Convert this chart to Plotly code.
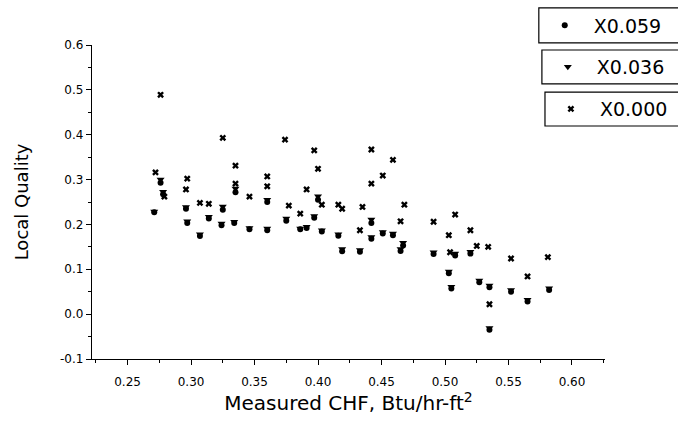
import plotly.graph_objects as go

# ---- data ----
chf_filled = [0.271, 0.276, 0.278, 0.296, 0.297, 0.307, 0.314, 0.324, 0.325, 0.334,
              0.335, 0.346, 0.360, 0.360, 0.375, 0.386, 0.391, 0.397, 0.400, 0.403,
              0.416, 0.419, 0.433, 0.442, 0.442, 0.451, 0.459, 0.465, 0.467, 0.491,
              0.503, 0.505, 0.508, 0.520, 0.527, 0.535, 0.535, 0.552, 0.565, 0.582]
q_059 = [0.227, 0.293, 0.267, 0.235, 0.203, 0.174, 0.213, 0.198, 0.233, 0.203,
         0.272, 0.189, 0.250, 0.187, 0.208, 0.189, 0.192, 0.215, 0.255, 0.184,
         0.175, 0.140, 0.139, 0.203, 0.168, 0.180, 0.176, 0.141, 0.153, 0.134,
         0.091, 0.057, 0.131, 0.135, 0.071, 0.060, -0.035, 0.050, 0.028, 0.054]
q_036 = [0.229, 0.300, 0.273, 0.239, 0.207, 0.178, 0.217, 0.202, 0.240, 0.206,
         0.280, 0.192, 0.255, 0.191, 0.213, 0.191, 0.195, 0.219, 0.263, 0.187,
         0.178, 0.145, 0.143, 0.211, 0.172, 0.183, 0.180, 0.145, 0.159, 0.138,
         0.095, 0.061, 0.135, 0.139, 0.075, 0.064, -0.031, 0.054, 0.032, 0.058]

chf_x = [0.272, 0.276, 0.279, 0.296, 0.297, 0.307, 0.314, 0.325, 0.335, 0.335,
         0.346, 0.360, 0.360, 0.374, 0.377, 0.386, 0.391, 0.397, 0.400, 0.403,
         0.416, 0.419, 0.433, 0.435, 0.442, 0.442, 0.451, 0.459, 0.465, 0.468,
         0.491, 0.503, 0.504, 0.508, 0.520, 0.525, 0.534, 0.535, 0.552, 0.565, 0.581]
q_000 = [0.316, 0.489, 0.262, 0.278, 0.302, 0.248, 0.246, 0.393, 0.291, 0.331,
         0.262, 0.307, 0.285, 0.389, 0.242, 0.224, 0.278, 0.365, 0.324, 0.244,
         0.244, 0.235, 0.187, 0.239, 0.367, 0.291, 0.309, 0.344, 0.207, 0.244,
         0.206, 0.176, 0.138, 0.222, 0.187, 0.152, 0.150, 0.022, 0.124, 0.084, 0.127]

series_names = ["X0.059", "X0.036", "X0.000"]
x_tickvals = [0.25, 0.30, 0.35, 0.40, 0.45, 0.50, 0.55, 0.60]
x_ticktext = ["0.25", "0.30", "0.35", "0.40", "0.45", "0.50", "0.55", "0.60"]
y_tickvals = [-0.1, 0.0, 0.1, 0.2, 0.3, 0.4, 0.5, 0.6]
y_ticktext = ["-0.1", "0.0", "0.1", "0.2", "0.3", "0.4", "0.5", "0.6"]

fig = go.Figure()
fig.add_trace(go.Scatter(x=chf_filled, y=q_059, mode="markers", name=series_names[0],
                         marker=dict(symbol="circle", size=6, color="black"),
                         legend="legend"))
fig.add_trace(go.Scatter(x=chf_filled, y=q_036, mode="markers", name=series_names[1],
                         marker=dict(symbol="triangle-down", size=7, color="black"),
                         legend="legend2"))
fig.add_trace(go.Scatter(x=chf_x, y=q_000, mode="markers", name=series_names[2],
                         marker=dict(symbol="x", size=6, color="black"),
                         legend="legend3"))

tick_font = dict(family="DejaVu Sans, sans-serif", size=12, color="black")
ytitle_font = dict(family="DejaVu Sans, sans-serif", size=18, color="black")
xtitle_font = dict(family="DejaVu Sans, sans-serif", size=20, color="black")
leg_font = dict(family="DejaVu Sans, sans-serif", size=19, color="black")

# legend boxes (paper coords: left, bottom, top)
boxes = [(0.871, 1.007, 1.118), (0.877, 0.876, 0.984), (0.883, 0.742, 0.850)]

def leg(x, yc):
    return dict(x=x - 0.006, y=yc, xanchor="left", yanchor="middle", xref="paper", yref="paper",
                borderwidth=0, bgcolor="rgba(0,0,0,0)", font=leg_font, itemwidth=48)

for (x0, y0, y1) in boxes:
    fig.add_shape(type="rect", xref="paper", yref="paper", x0=x0, x1=1.17, y0=y0, y1=y1,
                  line=dict(color="black", width=1.2), fillcolor="white", layer="above")

fig.update_layout(
    width=678, height=421,
    margin=dict(l=92, r=73, t=45, b=62, autoexpand=False),
    plot_bgcolor="white", paper_bgcolor="white",
    showlegend=True,
    legend=leg(boxes[0][0], (boxes[0][1] + boxes[0][2]) / 2),
    legend2=leg(boxes[1][0], (boxes[1][1] + boxes[1][2]) / 2),
    legend3=leg(boxes[2][0], (boxes[2][1] + boxes[2][2]) / 2),
    xaxis=dict(range=[0.222, 0.626], showgrid=False, zeroline=False,
               showline=True, linecolor="black", linewidth=1.3,
               ticks="outside", ticklen=5, tickwidth=1.2, tickcolor="black",
               tickvals=x_tickvals, ticktext=x_ticktext, tickfont=tick_font,
               ticklabelstandoff=6,
               minor=dict(ticks="outside", ticklen=3, dtick=0.025, tick0=0.25,
                          tickcolor="black", showgrid=False),
               title=dict(text="Measured CHF, Btu/hr-ft<sup>2</sup>", font=xtitle_font, standoff=8)),
    yaxis=dict(range=[-0.1, 0.6], showgrid=False, zeroline=False,
               showline=True, linecolor="black", linewidth=1.3,
               ticks="outside", ticklen=5, tickwidth=1.2, tickcolor="black",
               tickvals=y_tickvals, ticktext=y_ticktext, tickfont=tick_font,
               minor=dict(ticks="outside", ticklen=3, dtick=0.05, tick0=0,
                          tickcolor="black", showgrid=False),
               title=dict(text="Local Quality", font=ytitle_font, standoff=26)),
)

fig.write_html("out.html", config={"displayModeBar": False},
               post_script="document.body.style.margin='0px';")
